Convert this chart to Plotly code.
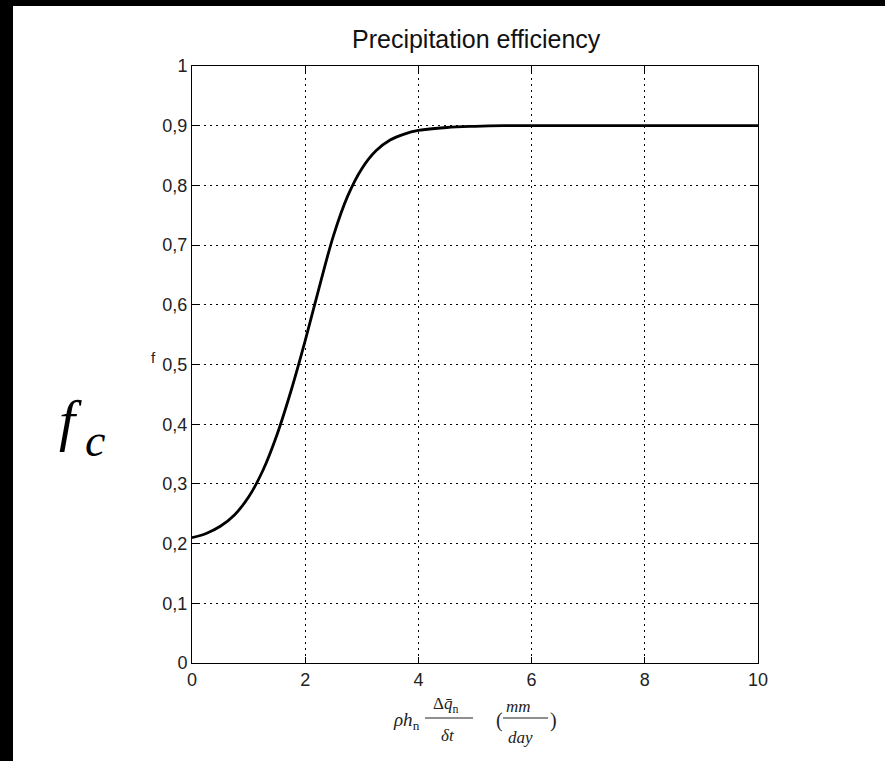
import plotly.graph_objects as go

# Precipitation efficiency curve f versus condensation rate (mm/day)
rate = [0.0, 0.25, 0.5, 0.75, 1.0, 1.25, 1.5, 1.75, 2.0, 2.25, 2.5, 2.75,
        3.0, 3.25, 3.5, 3.75, 4.0, 4.5, 5.0, 5.5, 6.0, 7.0, 8.0, 9.0, 10.0]
efficiency = [0.210, 0.217, 0.229, 0.248, 0.278, 0.322, 0.382, 0.456, 0.540,
              0.630, 0.716, 0.782, 0.828, 0.858, 0.876, 0.886, 0.892, 0.897,
              0.899, 0.900, 0.900, 0.900, 0.900, 0.900, 0.900]

x_ticks = [0, 2, 4, 6, 8, 10]
x_tick_labels = ["0", "2", "4", "6", "8", "10"]
y_ticks = [0, 0.1, 0.2, 0.3, 0.4, 0.5, 0.6, 0.7, 0.8, 0.9, 1.0]
y_tick_labels = ["0", "0,1", "0,2", "0,3", "0,4", "0,5", "0,6", "0,7", "0,8", "0,9", "1"]

W, H = 885, 761
L, R, T, B = 192, 758, 66, 663   # plot area in pixels


def px(x):
    return (x - L) / (R - L)


def py(y):
    return (B - y) / (B - T)


fig = go.Figure()
fig.add_trace(go.Scatter(
    x=rate, y=efficiency, mode="lines",
    line=dict(color="black", width=2.8, shape="spline", smoothing=1.0),
    hoverinfo="skip", showlegend=False,
))

axis_common = dict(
    showline=True, linecolor="black", linewidth=1, mirror="ticks",
    ticks="inside", ticklen=6, tickcolor="black", tickwidth=1,
    showgrid=True, gridcolor="black", gridwidth=1, griddash="2px,4px",
    zeroline=False,
    tickfont=dict(family="Liberation Sans", size=18, color="#222"),
)

fig.update_xaxes(range=[0, 10], tickvals=x_ticks, ticktext=x_tick_labels, **axis_common)
fig.update_yaxes(range=[0, 1], tickvals=y_ticks, ticktext=y_tick_labels, **axis_common)

serif = "Liberation Serif"
ann = []


def text(x, y, s, size, family=serif, color="#222", xanchor="center"):
    ann.append(dict(x=px(x), y=py(y), xref="paper", yref="paper", text=s,
                    showarrow=False, xanchor=xanchor, yanchor="middle",
                    font=dict(family=family, size=size, color=color)))


# title and axis labels
text(476, 39, "Precipitation efficiency", 25, family="Liberation Sans", color="#111")
text(153, 357, "f", 15, family="Liberation Sans", color="#222")
text(70, 420, "<i>f</i>", 58, color="black")
text(95, 441, "<i>c</i>", 46, color="black")

# x-axis label: rho h_n * (Delta q_n / delta t)   (mm / day)
text(406, 721, "<i>ρh</i><sub>n</sub>", 19)
text(445, 705, "Δ<i>q̄</i><sub>n</sub>", 17)
text(448, 736, "<i>δt</i>", 17)
text(499, 721, "(", 20)
text(518, 706, "<i>mm</i>", 17)
text(520, 737, "<i>day</i>", 17)
text(553, 721, ")", 20)

shapes = [
    # fraction bars
    dict(type="line", xref="paper", yref="paper", x0=px(425), x1=px(473),
         y0=py(718), y1=py(718), line=dict(color="#222", width=1.2)),
    dict(type="line", xref="paper", yref="paper", x0=px(503), x1=px(548),
         y0=py(718), y1=py(718), line=dict(color="#222", width=1.2)),
    # dark frame strips along the top and left edges of the page
    dict(type="rect", xref="paper", yref="paper", x0=px(0), x1=px(13),
         y0=py(H), y1=py(0), fillcolor="black", line=dict(width=0), layer="above"),
    dict(type="rect", xref="paper", yref="paper", x0=px(0), x1=px(W),
         y0=py(6), y1=py(0), fillcolor="black", line=dict(width=0), layer="above"),
]

fig.update_layout(
    width=W, height=H,
    margin=dict(l=L, r=W - R, t=T, b=H - B, pad=0),
    paper_bgcolor="white", plot_bgcolor="white",
    annotations=ann, shapes=shapes,
    showlegend=False,
)

fig.write_html("out.html", config={"displayModeBar": False})
